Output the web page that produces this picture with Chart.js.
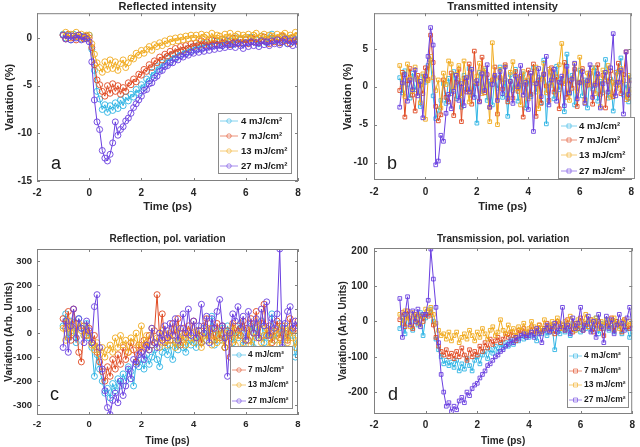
<!DOCTYPE html>
<html>
<head>
<meta charset="utf-8">
<script src="https://cdn.jsdelivr.net/npm/chart.js@4.4.0/dist/chart.umd.min.js"></script>
<style>
  html, body { margin: 0; padding: 0; background: #fff; }
  #wrap { position: relative; width: 640px; height: 447px; }
  canvas { position: absolute; }
</style>
</head>
<body>
<div id="wrap">
  <canvas id="chA" width="320" height="224" style="left:0;top:0"></canvas>
  <canvas id="chB" width="320" height="224" style="left:320px;top:0"></canvas>
  <canvas id="chC" width="320" height="223" style="left:0;top:224px"></canvas>
  <canvas id="chD" width="320" height="223" style="left:320px;top:224px"></canvas>
</div>
<script>
// delay axis, ps
const times = [
  -1.0, -0.9, -0.8, -0.7, -0.6, -0.5, -0.4, -0.3, -0.2, -0.1,
  0.0, 0.1, 0.2, 0.3, 0.4, 0.5, 0.6, 0.7, 0.8, 0.9,
  1.0, 1.1, 1.2, 1.3, 1.4, 1.5, 1.6, 1.7, 1.8, 1.9,
  2.0, 2.1, 2.2, 2.3, 2.4, 2.5, 2.6, 2.7, 2.8, 2.9,
  3.0, 3.1, 3.2, 3.3, 3.4, 3.5, 3.6, 3.7, 3.8, 3.9,
  4.0, 4.1, 4.2, 4.3, 4.4, 4.5, 4.6, 4.7, 4.8, 4.9,
  5.0, 5.1, 5.2, 5.3, 5.4, 5.5, 5.6, 5.7, 5.8, 5.9,
  6.0, 6.1, 6.2, 6.3, 6.4, 6.5, 6.6, 6.7, 6.8, 6.9,
  7.0, 7.1, 7.2, 7.3, 7.4, 7.5, 7.6, 7.7, 7.8, 7.9,
  8.0
];
const timeTicks = [-2, 0, 2, 4, 6, 8];
const fluences = ['4 mJ/cm²', '7 mJ/cm²', '13 mJ/cm²', '27 mJ/cm²'];
const colors = ['#2fb4e4', '#e04a22', '#f0aa1e', '#6a3fe0'];

// (a) reflected intensity, %
const reflA4 = [
  0.4, 0.0, 0.3, -0.2, 0.4, 0.1, 0.3, -0.1, 0.2, 0.0,
  0.3, -1.2, -3.4, -5.6, -6.4, -7.5, -7.0, -7.8, -7.1, -7.6,
  -6.8, -7.4, -6.5, -7.1, -6.2, -6.6, -5.9, -6.2, -5.4, -5.8,
  -4.9, -5.2, -4.3, -4.5, -3.6, -3.9, -3.0, -3.3, -2.6, -2.8,
  -2.1, -2.5, -1.8, -2.1, -1.5, -1.8, -1.3, -1.6, -1.1, -1.4,
  -0.9, -1.2, -0.7, -1.1, -0.5, -0.9, -0.6, -0.8, -0.3, -0.7,
  -0.4, -0.8, -0.2, -0.6, -0.3, -0.7, 0.0, -0.5, -0.2, -0.6,
  -0.1, -0.5, 0.1, -0.4, -0.2, -0.6, 0.2, -0.3, -0.5, 0.0,
  0.4, -0.3, -0.1, -0.5, 0.1, -0.2, -0.6, 0.0, -0.4, -0.1,
  -0.3
];
const reflA7 = [
  0.3, -0.1, 0.4, 0.0, 0.2, -0.2, 0.3, 0.1, -0.1, 0.2,
  0.0, -1.0, -2.8, -4.4, -4.9, -5.6, -6.1, -5.0, -5.8, -4.8,
  -5.6, -5.0, -5.9, -5.2, -5.6, -4.7, -4.9, -4.3, -4.6, -3.8,
  -3.9, -3.3, -3.5, -2.8, -3.1, -2.4, -2.6, -2.0, -2.3, -1.7,
  -1.9, -1.4, -1.7, -1.1, -1.5, -0.9, -1.3, -0.8, -1.1, -0.6,
  -0.9, -0.5, -0.8, -0.3, -0.7, -0.4, -0.8, -0.2, -0.6, -0.3,
  -0.7, -0.1, -0.5, -0.3, -0.7, 0.0, -0.4, -0.6, -0.1, -0.5,
  -0.2, -0.6, 0.0, -0.4, -0.1, -0.5, -0.3, 0.1, -0.4, -0.6,
  0.0, -0.4, -0.1, -0.5, 0.2, -0.3, -0.1, -0.6, 0.0, -0.3,
  -0.4
];
const reflA13 = [
  0.3, 0.6, 0.0, 0.4, 0.2, 0.6, 0.1, 0.4, 0.0, 0.3,
  0.3, -0.6, -1.7, -2.6, -3.1, -3.6, -2.5, -3.3, -2.3, -3.2,
  -2.5, -3.4, -2.7, -2.3, -3.1, -2.6, -2.1, -2.2, -1.6, -1.8,
  -1.3, -1.6, -1.2, -0.9, -1.3, -0.7, -0.9, -0.5, -0.8, -0.3,
  -0.6, -0.1, -0.4, 0.0, -0.3, 0.1, -0.2, 0.2, -0.1, 0.3,
  0.0, 0.3, -0.1, 0.4, 0.1, 0.3, -0.1, 0.5, 0.0, 0.3,
  0.2, -0.1, 0.4, 0.1, 0.5, -0.1, 0.2, 0.4, 0.0, 0.3,
  0.1, 0.4, -0.1, 0.3, 0.5, 0.0, 0.2, 0.4, -0.1, 0.3,
  0.2, 0.0, 0.4, 0.1, 0.3, 0.5, 0.0, 0.3, 0.1, 0.6,
  0.3
];
const reflA27 = [
  0.3, -0.1, 0.2, -0.2, 0.2, 0.0, 0.3, -0.2, 0.1, -0.1,
  -0.4, -2.5, -6.5, -8.8, -9.6, -11.8, -12.6, -12.9, -12.2, -11.0,
  -8.8, -10.2, -9.6, -9.3, -8.7, -8.4, -7.9, -7.3, -6.9, -6.5,
  -6.1, -5.5, -5.4, -4.8, -4.7, -4.2, -4.0, -3.5, -3.4, -3.0,
  -2.9, -2.6, -2.6, -2.2, -2.3, -1.9, -2.0, -1.7, -1.8, -1.5,
  -1.6, -1.3, -1.5, -1.2, -1.4, -1.0, -1.3, -0.9, -1.2, -0.8,
  -1.1, -0.8, -1.0, -0.7, -0.9, -0.6, -1.0, -0.5, -0.8, -1.1,
  -0.5, -0.9, -0.4, -0.8, -0.5, -0.9, -0.3, -0.7, -0.4, -0.8,
  -0.3, -0.6, -0.2, -0.7, -0.4, -0.1, -0.6, -0.3, -0.8, -0.2,
  -0.7
];

// (b) transmitted intensity, %
const transB4 = [
  1.2, -0.8, 2.1, 0.3, -1.5, 1.8, -0.4, 0.9, -2.6, 1.4,
  0.6, 2.8, 3.5, -1.2, -4.2, -3.1, -1.8, 0.4, -2.2, 1.1,
  -0.9, 2.0, -1.6, 0.8, -2.7, 1.5, -0.3, 2.4, -1.1, 0.5,
  -4.8, 1.9, -0.6, 2.2, -1.8, 0.7, -2.4, 1.3, -0.2, 2.6,
  -1.4, 0.9, -3.9, 1.6, -0.5, 2.3, -1.9, 0.2, 1.7, -2.8,
  0.8, -1.3, 2.5, -0.7, 1.2, -2.1, 3.5, -4.9, 0.4, 1.9,
  -1.6, 2.7, -0.4, 1.1, -3.3, 4.3, -0.9, 1.5, -2.4, 0.6,
  2.2, -1.2, 0.9, -2.8, 1.7, -0.3, 2.5, -1.9, 0.7, -0.8,
  3.6, -1.5, 1.0, -3.2, 0.5, 2.0, 3.8, -1.1, 0.3, -2.0,
  1.3
];
const transB7 = [
  -0.5, 1.9, -4.0, 0.8, 2.4, -1.1, -3.2, 1.5, 0.2, -0.9,
  2.5, 1.0, 6.8, 3.2, -2.6, -4.5, -3.7, 0.9, -1.4, -2.0,
  1.8, -3.8, 0.6, 2.3, -4.6, 1.1, -0.7, 3.0, -2.3, 4.7,
  0.4, -1.9, 3.9, -0.8, 1.6, -2.7, 0.9, 2.6, -3.6, 1.2,
  -0.3, 2.9, -2.0, 0.7, -1.5, 2.0, -0.6, 1.4, -4.0, 0.3,
  2.2, -1.0, 3.0, -3.9, 0.9, -2.2, 1.7, 0.1, -1.8, 2.5,
  -0.7, 1.3, -2.9, 0.5, 3.2, -1.4, 0.8, -0.2, 2.3, -2.6,
  0.6, 2.4, -1.7, 0.2, 1.8, -2.3, 0.4, 2.9, -1.0, 1.5,
  -2.8, 0.7, 2.1, -1.3, 0.3, 3.1, -0.9, 1.6, 4.6, -1.5,
  0.9
];
const transB13 = [
  2.8, 0.4, -1.3, 3.0, 1.1, -0.6, 2.6, 0.9, -2.1, 1.7,
  -4.3, 0.8, 4.0, 1.2, -0.5, 0.9, -2.8, 1.8, 0.3, 3.4,
  3.0, -0.4, 1.6, 2.8, -1.2, 3.4, 0.5, -2.0, 2.1, 0.7,
  1.4, 3.1, -0.9, 2.4, 0.2, -4.6, 5.8, 1.0, -5.0, 2.3,
  0.6, 2.7, -1.1, 1.9, 3.3, -0.3, 1.2, -2.4, 2.0, 0.8,
  -1.6, 1.4, 0.5, 2.6, -2.9, 1.0, 3.1, -0.8, 2.3, 0.2,
  1.7, -1.0, 2.9, 5.7, 0.4, 2.0, -1.8, 1.1, 3.0, -0.6,
  3.9, 0.7, -2.1, 1.8, 0.3, 2.5, -0.9, 1.3, -2.6, 2.2,
  0.9, 2.8, -1.4, 0.6, 1.9, -0.2, 2.4, 0.8, -1.7, 1.5,
  -0.8
];
const transB27 = [
  -2.7, 0.5, 1.6, -1.9, 0.9, -0.4, 2.2, -1.2, 0.7, -4.1,
  1.4, 4.0, 7.8, 5.5, -10.3, -9.8, -6.4, -7.2, -3.5, -1.0,
  -2.9, -0.6, 1.5, -1.8, 0.4, -2.5, 1.2, -0.7, 2.3, -1.4,
  0.8, -2.0, 1.7, -0.5, 2.9, -2.7, 0.3, 1.5, -1.8, 2.0,
  -0.9, 2.6, -1.5, 0.7, -2.2, 1.4, 0.0, 2.8, -1.1, 0.6,
  -3.0, 1.8, -5.9, 0.4, 2.4, -1.3, 1.6, 4.0, -2.4, 0.9,
  2.3, -1.9, 0.6, 1.4, -2.5, 2.7, -0.8, 1.0, 3.1, -1.6,
  0.5, 2.0, -2.2, 0.8, 2.9, -1.4, 0.2, 1.7, -2.8, 0.4,
  1.9, -0.7, 2.5, 7.0, -1.2, 0.6, 2.2, -3.6, 4.6, -1.0,
  0.8
];

// (c) reflection, polarisation variation, arb. units
const polC4 = [
  30, 80, -20, 50, 10, -40, 60, 20, -10, 40,
  -20, -60, -180, -90, -150, -200, -250, -230, -270, -210,
  -240, -190, -220, -170, -200, -140, -160, -220, -120, -140,
  -110, -150, -90, -130, -100, -70, -110, -140, -80, -60,
  -90, -50, -110, -40, -70, -20, -60, -80, -30, -50,
  -20, -60, 10, -40, 20, -30, 0, 70, -50, 10,
  -30, 20, -60, 30, -10, -40, 10, -20, 40, -50,
  0, -30, 30, -60, 20, -10, 50, -40, 10, -20,
  80, -30, 0, 40, -50, 20, -20, 30, -10, -100,
  -40
];
const polC7 = [
  60, 20, 90, -30, 100, 40, -80, -120, 30, -10,
  20, -40, -10, -80, -120, -160, -200, -140, -180, -110,
  -150, -90, -130, -60, -110, -80, -40, -70, -120, -50,
  -80, -30, -60, -10, -50, 10, 160, -20, 80, -40,
  10, -30, 40, -10, 60, -50, 20, -20, 30, 0,
  50, -20, 10, -40, 30, 60, -10, 20, -30, 40,
  -20, 30, -60, 10, -100, 40, 0, 30, -10, 50,
  20, -30, 60, 0, 90, -20, 40, 120, -10, 30,
  -40, 10, 50, -20, 30, 0, -30, 60, 10, 20,
  50
];
const polC13 = [
  20, -30, 50, 0, 30, -20, 40, 10, -10, 30,
  -10, -50, -70, -40, -90, -60, -100, -70, -50, -80,
  -20, -60, -10, -50, -30, -80, -20, -40, 0, -60,
  30, -50, -10, -70, 20, -40, -20, -60, 10, -30,
  -50, 0, -30, -60, 20, -40, -10, -50, 10, -20,
  -40, 10, -20, -60, 0, -30, 20, -50, -10, -40,
  10, -30, -60, 0, -20, 30, -50, -10, 20, -40,
  -30, 10, -50, 0, -20, 30, -40, -10, 20, -60,
  0, -30, 20, -50, -10, 30, -40, 10, -20, -60,
  -10
];
const polC27 = [
  -60, 50, -80, 30, 100, -20, 60, 20, -40, 50,
  10, -40, 110, 160, -60, -150, -240, -310, -339, -280,
  -250, -290, -200, -260, -220, -150, -190, -110, -130, -90,
  -80, -110, -50, -70, 20, -40, -60, 0, -30, 30,
  -20, 40, -10, 60, -30, 20, 80, 0, 100, -10,
  50, -20, 30, 120, 0, 70, -40, 60, 20, 90,
  140, 30, -20, -180, 0, 80, 50, 110, 20, 70,
  -30, 90, 40, 0, 60, -20, 100, 30, 130, -10,
  60, 20, 80, 350, -60, 40, 90, 110, 20, 50,
  30
];

// (d) transmission, polarisation variation, arb. units
const polD4 = [
  -20, 10, -35, 20, 0, -25, 15, -10, 25, -40,
  10, 20, 35, 0, -50, -80, -100, -120, -110, -125,
  -115, -130, -110, -140, -120, -135, -105, -125, -140, -110,
  -100, -120, -95, -85, -105, -80, -90, -70, -85, -65,
  -75, -60, -70, -50, -65, -45, -55, -40, -50, -35,
  -45, -30, -40, -55, -25, -35, -20, -40, -30, -15,
  -80, -25, -35, -10, -30, -20, -40, -5, -25, -15,
  -30, -10, -20, 0, -25, -15, 10, -35, -5, -20,
  5, -25, -10, -30, 0, -15, -35, -5, -20, -45,
  -30
];
const polD7 = [
  5, 25, -15, 30, 10, -20, 20, -5, 15, 0,
  20, 15, 25, -10, -45, -70, -85, -95, -80, -100,
  -90, -105, -85, -100, -75, -95, -110, -80, -100, -85,
  -95, -70, -85, -60, -75, -50, -65, -55, -45, -60,
  -50, -35, -45, -30, -40, -55, -25, -35, -20, -40,
  -30, -15, -35, -25, -10, -30, -20, -5, -25, -15,
  -35, 0, -20, -10, -25, 5, -15, -30, -5, -20,
  10, -25, -5, -15, 5, -30, -10, 0, -20, -40,
  -5, -15, 10, -25, 0, -10, -30, 5, -15, -20,
  -10
];
const polD13 = [
  20, -5, 30, 10, -15, 25, 5, 20, -10, 15,
  35, 30, 40, 20, -5, -25, -40, -35, -50, -30,
  -55, -40, -30, -60, -45, -35, -50, -25, -40, -55,
  -30, -45, -20, -35, -50, -25, -15, -40, -30, 5,
  -25, -35, -10, -30, -20, -40, -15, -25, -5, -30,
  -20, 0, -15, -30, -10, -25, 5, -20, -10, 0,
  -15, 10, -5, -20, 0, -10, 15, -5, -25, 5,
  -10, 0, 20, -15, 5, -5, 10, -20, 0, -10,
  5, -15, 0, 10, -5, -20, 0, 5, -10, 0,
  -5
];
const polD27 = [
  65, -45, 20, 70, -10, 30, 0, 35, -15, 20,
  20, 60, 205, 120, 40, -60, -150, -200, -240, -230,
  -255, -240, -250, -225, -215, -230, -200, -210, -190, -180,
  -175, -160, -150, -140, -125, -120, -110, -100, -95, -85,
  -80, -70, -65, -55, -60, -45, -50, -40, -35, -45,
  -40, -30, -45, -20, -35, -60, -25, -10, -30, -20,
  -5, -30, -15, 40, -25, -10, -35, 10, -20, -5,
  40, -25, -10, 15, -30, 0, -45, 20, -15, -60,
  15, -20, 5, -35, -10, 20, -5, -25, 10, 40,
  -20
];

const ticksA = [-15, -10, -5, 0];
const ticksB = [-10, -5, 0, 5];
const ticksC = [-300, -200, -100, 0, 100, 200, 300];
const ticksD = [-200, -100, 0, 100, 200];

Chart.defaults.font.family = '"Liberation Sans", Arial, sans-serif';
Chart.defaults.color = '#262626';

// box, inner ticks, legend and panel letter, MATLAB style
const matlabBox = {
  id: 'matlabBox',
  afterDatasetsDraw(chart, args, o) {
    const { ctx, chartArea: a, scales: { x, y } } = chart;
    ctx.save();
    ctx.strokeStyle = '#808080';
    ctx.lineWidth = 1;
    ctx.strokeRect(a.left + 0.5, a.top + 0.5, a.width - 1, a.height - 1);
    ctx.beginPath();
    x.ticks.forEach(t => {
      const px = Math.round(x.getPixelForValue(t.value)) + 0.5;
      ctx.moveTo(px, a.bottom); ctx.lineTo(px, a.bottom - 3);
      ctx.moveTo(px, a.top); ctx.lineTo(px, a.top + 3);
    });
    y.ticks.forEach(t => {
      const py = Math.round(y.getPixelForValue(t.value)) + 0.5;
      ctx.moveTo(a.left, py); ctx.lineTo(a.left + 3, py);
      ctx.moveTo(a.right, py); ctx.lineTo(a.right - 3, py);
    });
    ctx.stroke();

    // legend
    const L = o.legend;
    ctx.fillStyle = '#fff';
    ctx.fillRect(L.x, L.y, L.w, L.h);
    ctx.strokeStyle = '#8a8a8a';
    ctx.strokeRect(L.x + 0.5, L.y + 0.5, L.w, L.h);
    ctx.font = 'bold ' + L.size + 'px "Liberation Sans", Arial, sans-serif';
    ctx.textBaseline = 'middle';
    chart.data.datasets.forEach((ds, i) => {
      const ry = L.rows[i];
      ctx.globalAlpha = 0.6;
      ctx.strokeStyle = ds.borderColor;
      ctx.lineWidth = 1;
      ctx.beginPath();
      ctx.moveTo(L.x1, ry); ctx.lineTo(L.x2, ry);
      ctx.stroke();
      const cx = (L.x1 + L.x2) / 2;
      ctx.beginPath();
      if (o.square) ctx.rect(cx - 2, ry - 2, 4, 4);
      else ctx.arc(cx, ry, 2.2, 0, Math.PI * 2);
      ctx.stroke();
      ctx.globalAlpha = 1;
      ctx.fillStyle = '#1a1a1a';
      ctx.fillText(ds.label, L.tx, ry);
    });

    // panel letter
    ctx.font = '18px "Liberation Sans", Arial, sans-serif';
    ctx.textBaseline = 'alphabetic';
    ctx.fillStyle = '#1a1a1a';
    ctx.fillText(o.letter.text, o.letter.x, o.letter.y);
    ctx.restore();
  }
};

function makePanel(id, p) {
  const H = document.getElementById(id).height;
  const W = document.getElementById(id).width;
  const datasets = p.series.map((vals, i) => ({
    label: fluences[i],
    data: times.map((t, k) => ({ x: t, y: vals[k] })),
    borderColor: colors[i],
    backgroundColor: 'transparent',
    borderWidth: 1,
    pointStyle: p.square ? 'rect' : 'circle',
    pointRadius: p.square ? 2.6 : 3,
    pointBorderWidth: 0.9,
    pointBackgroundColor: 'transparent',
    order: 3 - i
  }));
  new Chart(document.getElementById(id), {
    type: 'line',
    data: { datasets },
    options: {
      responsive: false,
      animation: false,
      events: [],
      layout: { padding: { left: 0, top: 0, bottom: 0, right: W - p.area.right } },
      scales: {
        x: {
          type: 'linear', min: -2, max: 8,
          afterBuildTicks: s => { s.ticks = timeTicks.map(v => ({ value: v })); },
          afterFit: s => { s.height = H - p.area.bottom; },
          grid: { display: false, drawTicks: false },
          border: { display: false },
          ticks: { font: { size: p.tick, weight: 'bold' }, padding: p.xTickPad, maxRotation: 0 },
          title: { display: true, text: 'Time (ps)', font: { size: p.lab, weight: 'bold' },
                   padding: { top: 0, bottom: p.xTitlePad } }
        },
        y: {
          type: 'linear', min: p.yMin, max: p.yMax,
          afterBuildTicks: s => { s.ticks = p.yTicks.map(v => ({ value: v })); },
          afterFit: s => { s.width = p.area.left; },
          grid: { display: false, drawTicks: false },
          border: { display: false },
          ticks: { font: { size: p.tick, weight: 'bold' }, padding: p.yTickPad },
          title: { display: true, text: p.yTitle, font: { size: p.lab, weight: 'bold' },
                   padding: { top: p.yTitlePad, bottom: 0 } }
        }
      },
      plugins: {
        legend: { display: false },
        tooltip: { enabled: false },
        title: {
          display: true, text: p.title, fullSize: false,
          font: { size: p.lab, weight: 'bold' },
          padding: p.titlePad
        },
        matlabBox: { legend: p.legend, letter: p.letter, square: p.square }
      }
    },
    plugins: [matlabBox]
  });
}

makePanel('chA', {
  title: 'Reflected intensity', yTitle: 'Variation (%)',
  series: [reflA4, reflA7, reflA13, reflA27], yTicks: ticksA,
  yMin: -15, yMax: 2.6, square: false,
  area: { left: 37, right: 298, bottom: 181 },
  tick: 10, lab: 11, xTickPad: 6, xTitlePad: 10, yTickPad: 5, yTitlePad: 3.5,
  titlePad: { top: 0, bottom: 0 },
  legend: { x: 218, y: 113, w: 73, h: 60, x1: 220, x2: 238, tx: 241, size: 9.5, rows: [121, 136, 151, 166] },
  letter: { text: 'a', x: 51, y: 169 }
});
makePanel('chB', {
  title: 'Transmitted intensity', yTitle: 'Variation (%)',
  series: [transB4, transB7, transB13, transB27], yTicks: ticksB,
  yMin: -12.3, yMax: 9.7, square: true,
  area: { left: 54, right: 314, bottom: 180 },
  tick: 10, lab: 11, xTickPad: 6, xTitlePad: 10, yTickPad: 6, yTitlePad: 21,
  titlePad: { top: 0, bottom: 0 },
  legend: { x: 238, y: 117, w: 76, h: 61, x1: 241, x2: 257, tx: 259, size: 9.5, rows: [126, 140, 155, 171] },
  letter: { text: 'b', x: 67, y: 169 }
});
makePanel('chC', {
  title: 'Reflection, pol. variation', yTitle: 'Variation (Arb. Units)',
  series: [polC4, polC7, polC13, polC27], yTicks: ticksC,
  yMin: -341, yMax: 350, square: false,
  area: { left: 37, right: 298, bottom: 191 },
  tick: 9.5, lab: 10, xTickPad: 4, xTitlePad: 0, yTickPad: 5, yTitlePad: 3,
  titlePad: { top: 9, bottom: 4 },
  legend: { x: 230, y: 122, w: 62, h: 62, x1: 232, x2: 246, tx: 248, size: 8.3, rows: [131, 146, 161, 177] },
  letter: { text: 'c', x: 50, y: 176 }
});
makePanel('chD', {
  title: 'Transmission, pol. variation', yTitle: 'Variation (Arb. Units)',
  series: [polD4, polD7, polD13, polD27], yTicks: ticksD,
  yMin: -262, yMax: 208, square: true,
  area: { left: 54, right: 315, bottom: 190 },
  tick: 10, lab: 10, xTickPad: 5, xTitlePad: 0, yTickPad: 6, yTitlePad: 17,
  titlePad: { top: 9, bottom: 3 },
  legend: { x: 247, y: 122, w: 61, h: 61, x1: 249, x2: 262, tx: 264, size: 8.5, rows: [132, 147, 161, 176] },
  letter: { text: 'd', x: 68, y: 176 }
});
</script>
</body>
</html>
